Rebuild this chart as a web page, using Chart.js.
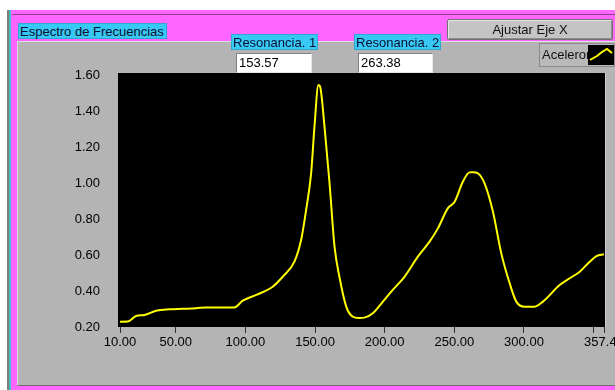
<!DOCTYPE html>
<html lang="es">
<head>
<meta charset="UTF-8">
<title>Espectro de Frecuencias</title>
<script src="https://cdn.jsdelivr.net/npm/chart.js@4/dist/chart.umd.min.js"></script>
<style>
  html, body { margin: 0; padding: 0; }
  body { width: 615px; height: 390px; overflow: hidden; position: relative; background: #fff;
         font-family: "Liberation Sans", Arial, sans-serif; font-size: 13px; }
  .abs { position: absolute; }
  #rail { left: 7px; top: 10px; width: 2px; height: 380px; background: #7d8074; }
  #rail2 { left: 9px; top: 10px; width: 2px; height: 380px; background: #3fbfc8; }
  #frame { left: 11px; top: 10px; width: 604px; height: 380px; background: #ff66ff; }
  #frameLine { left: 12px; top: 14px; width: 603px; height: 1px; background: #8e3f8e; }
  #panel { left: 17px; top: 41px; width: 598px; height: 345px; background: #b4b4b4;
           border-left: 1px solid #dedede; border-top: 1px solid #dedede; border-bottom: 1px solid #707070;
           box-sizing: border-box; }
  .tag { background: #38c8f4; color: #0a1030; height: 16px; line-height: 16px; padding: 0 1px;
         white-space: nowrap; box-sizing: border-box; border: 1px solid #30a8d0; }
  .num { background: #fff; height: 20px; line-height: 18px; padding-left: 2px; box-sizing: border-box;
         border-top: 1px solid #808080; border-left: 1px solid #808080;
         border-right: 1px solid #e8e8e8; border-bottom: 1px solid #e8e8e8; color: #000; }
  #btn { left: 447px; top: 19px; width: 166px; height: 21px; background: #c4c4c4; color: #101010;
         border: 1px solid #707070; border-radius: 2px; box-sizing: border-box; text-align: center;
         line-height: 19px; box-shadow: inset 1px 1px 0 #e6e6e6, inset -1px -1px 0 #8c8c8c; }
  #legend { left: 539px; top: 43px; width: 76px; height: 24px; background: #b9b9b9;
            border: 1px solid #8a8a8a; box-sizing: border-box; }
  #legText { left: 2px; top: 3px; width: 47px; overflow: hidden; white-space: nowrap; color: #101010; }
  #legIcon { left: 48px; top: 1px; width: 26px; height: 20px; background: #000; }
  #chartBox { left: 0; top: 0; width: 660px; height: 390px; }
</style>
</head>
<body>
<div class="abs" id="rail"></div>
<div class="abs" id="rail2"></div>
<div class="abs" id="frame"></div>
<div class="abs" id="frameLine"></div>
<div class="abs" id="panel"></div>

<div class="abs" id="chartBox"><canvas id="espectro" width="660" height="390"></canvas></div>

<div class="abs tag" style="left:18px; top:23px; width:149px;">Espectro de Frecuencias</div>
<div class="abs tag" style="left:231px; top:34px; width:87px;">Resonancia. 1</div>
<div class="abs num" style="left:236px; top:53px; width:76px;">153.57</div>
<div class="abs tag" style="left:354px; top:34px; width:87px;">Resonancia. 2</div>
<div class="abs num" style="left:358px; top:53px; width:75px;">263.38</div>
<div class="abs" id="btn">Ajustar Eje X</div>
<div class="abs" id="legend">
  <div class="abs" id="legText">Acelerometro</div>
  <svg class="abs" id="legIcon" viewBox="0 0 26 20"><polyline points="2,15 9,11 14,7 19,4 24,8" fill="none" stroke="#ffff00" stroke-width="2"/></svg>
</div>

<script>
// Espectro de frecuencias
var freq = [10, 15.5, 21.5, 27.5, 35.9, 45.4, 55, 64.6, 71.8, 92.1, 98.1, 107.7, 119.6, 126.8,
            135.2, 140, 143.6, 147.2, 149.6, 152.4, 153.8, 156.8, 160.4, 164, 167.5, 172.4, 177.1,
            181.5, 185.5, 191.5, 198.7, 205.8, 214.2, 223.8, 232.2, 238.2, 245.3, 250.2, 256.1,
            260.9, 263.4, 266.9, 271.7, 277.7, 283.7, 289.7, 294.5, 300.4, 307.6, 313.6, 325.6,
            332.8, 340, 347.2, 352, 357.43];
var amplitud = [0.229, 0.23, 0.261, 0.267, 0.29, 0.298, 0.301, 0.304, 0.309, 0.309, 0.346, 0.378,
                0.424, 0.479, 0.563, 0.683, 0.85, 1.054, 1.313, 1.544, 1.53, 1.313, 1.0, 0.646,
                0.479, 0.313, 0.257, 0.25, 0.252, 0.276, 0.341, 0.406, 0.479, 0.591, 0.674, 0.748,
                0.859, 0.896, 1.007, 1.059, 1.06, 1.054, 0.998, 0.841, 0.609, 0.443, 0.341, 0.313,
                0.313, 0.341, 0.433, 0.471, 0.507, 0.563, 0.594, 0.604];
var xTicks = [10, 50, 100, 150, 200, 250, 300, 350, 357.43];
var yTicks = [0.2, 0.4, 0.6, 0.8, 1.0, 1.2, 1.4, 1.6];

var puntos = freq.map(function (f, i) { return { x: f, y: amplitud[i] }; });

// fondo negro del grafico
var fondoNegro = {
  id: 'fondoNegro',
  beforeDraw: function (chart) {
    var a = chart.chartArea, ctx = chart.ctx;
    ctx.save();
    ctx.fillStyle = '#000';
    ctx.fillRect(a.left - 2, a.top - 2, a.right - a.left + 3, a.bottom - a.top + 2);
    ctx.strokeStyle = '#cfcfcf';
    ctx.lineWidth = 1;
    ctx.beginPath();
    ctx.moveTo(a.right + 1.5, a.top - 2);
    ctx.lineTo(a.right + 1.5, a.bottom);
    ctx.stroke();
    ctx.restore();
  }
};

var ctx = document.getElementById('espectro').getContext('2d');
var chart = new Chart(ctx, {
  type: 'line',
  data: {
    datasets: [{
      label: 'Acelerometro',
      data: puntos,
      borderColor: '#ffff00',
      borderWidth: 2,
      pointRadius: 0,
      cubicInterpolationMode: 'monotone',
      fill: false
    }]
  },
  options: {
    responsive: false,
    animation: false,
    layout: { padding: { top: 75, right: 56, left: 0, bottom: 0 } },
    plugins: { legend: { display: false }, tooltip: { enabled: false } },
    scales: {
      x: {
        type: 'linear',
        min: 10,
        max: 357.43,
        afterFit: function (s) { s.height = 63; },
        afterBuildTicks: function (s) { s.ticks = xTicks.map(function (v) { return { value: v }; }); },
        grid: { drawOnChartArea: false, drawTicks: true, tickLength: 6, color: '#303030' },
        border: { display: false },
        ticks: {
          autoSkip: false, maxRotation: 0, padding: 2, color: '#000',
          font: { family: 'Liberation Sans', size: 13 },
          callback: function (v) { return v === 350 ? '' : v.toFixed(2); }
        }
      },
      y: {
        min: 0.2,
        max: 1.6,
        afterFit: function (s) { s.width = 120; },
        afterBuildTicks: function (s) { s.ticks = yTicks.map(function (v) { return { value: v }; }); },
        grid: { display: false },
        border: { display: false },
        ticks: {
          padding: 12, color: '#000',
          font: { family: 'Liberation Sans', size: 13 },
          callback: function (v) { return v.toFixed(2); }
        }
      }
    }
  },
  plugins: [fondoNegro]
});
</script>
</body>
</html>
